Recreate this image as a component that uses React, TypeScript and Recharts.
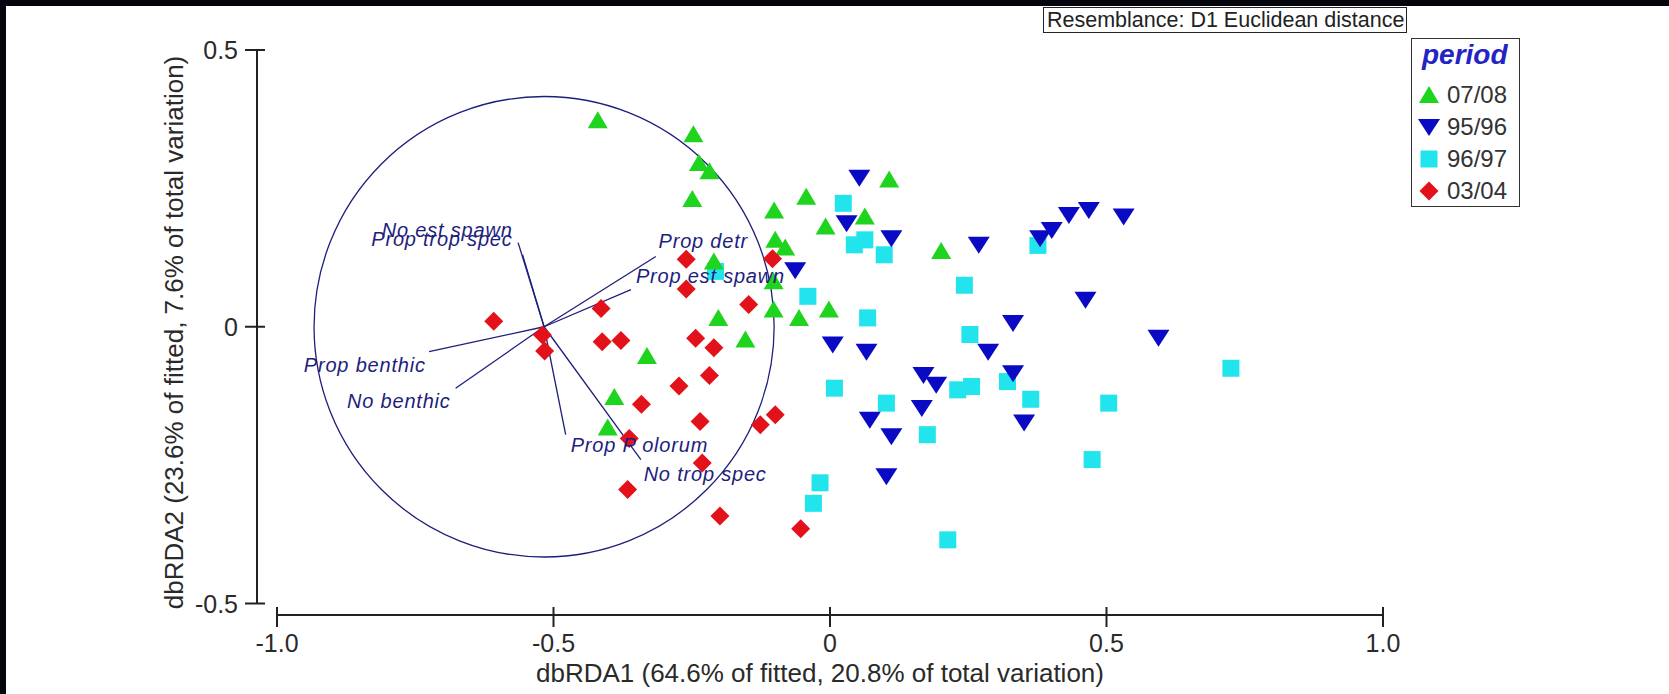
import React from 'react';
import { ScatterChart, Scatter, XAxis, YAxis, ReferenceLine, ReferenceArea } from 'recharts';

// dbRDA ordination scores
const periods = ['07/08', '95/96', '96/97', '03/04'];

const p0708X = [-0.42, -0.247, -0.237, -0.218, -0.249, -0.101, -0.043, 0.107, -0.008, 0.063, -0.099, -0.081, 0.201, -0.21, -0.102, -0.202, -0.153, -0.102, -0.056, -0.002, -0.331, -0.39, -0.402];
const p0708Y = [0.373, 0.348, 0.296, 0.281, 0.231, 0.21, 0.235, 0.266, 0.181, 0.199, 0.157, 0.143, 0.137, 0.118, 0.082, 0.016, -0.023, 0.031, 0.016, 0.031, -0.053, -0.127, -0.182];

const p9596X = [0.053, 0.03, 0.111, -0.063, 0.269, 0.38, 0.401, 0.432, 0.468, 0.531, 0.462, 0.331, 0.594, 0.005, 0.066, 0.286, 0.331, 0.169, 0.192, 0.166, 0.351, 0.072, 0.111, 0.102];
const p9596Y = [0.269, 0.187, 0.16, 0.102, 0.148, 0.16, 0.175, 0.202, 0.211, 0.199, 0.049, 0.007, -0.02, -0.032, -0.045, -0.045, -0.084, -0.087, -0.105, -0.147, -0.173, -0.168, -0.198, -0.27];

const p9697X = [0.024, 0.044, 0.063, 0.098, 0.376, 0.243, -0.04, 0.068, 0.253, 0.008, 0.102, 0.231, 0.256, 0.321, 0.363, 0.176, 0.504, 0.725, 0.474, -0.018, -0.03, 0.213, -0.207];
const p9697Y = [0.223, 0.148, 0.157, 0.13, 0.147, 0.075, 0.055, 0.016, -0.014, -0.111, -0.138, -0.114, -0.108, -0.099, -0.131, -0.195, -0.138, -0.075, -0.24, -0.282, -0.319, -0.385, 0.1];

const p0304X = [-0.608, -0.52, -0.516, -0.414, -0.412, -0.378, -0.26, -0.26, -0.104, -0.147, -0.243, -0.21, -0.218, -0.273, -0.341, -0.235, -0.099, -0.126, -0.363, -0.231, -0.366, -0.199, -0.053];
const p0304Y = [0.01, -0.015, -0.044, 0.033, -0.027, -0.025, 0.122, 0.068, 0.123, 0.04, -0.021, -0.038, -0.088, -0.107, -0.14, -0.171, -0.159, -0.177, -0.202, -0.246, -0.294, -0.342, -0.365];

// vector overlay (origin = centre of the correlation circle)
const vectorOrigin = { x: -0.517, y: 0 };
const circleRadius = 0.416;
const vectorNames = ['No est spawn', 'Prop trop spec', 'Prop detr', 'Prop est spawn', 'Prop benthic', 'No benthic', 'Prop P olorum', 'No trop spec'];
const vectorEndX = [-0.564, -0.556, -0.315, -0.36, -0.725, -0.677, -0.478, -0.342];
const vectorEndY = [0.152, 0.13, 0.127, 0.067, -0.045, -0.111, -0.195, -0.24];
const vectorLabelX = [-0.574, -0.574, -0.31, -0.351, -0.731, -0.686, -0.469, -0.337];
const vectorLabelY = [0.163, 0.145, 0.142, 0.079, -0.081, -0.147, -0.227, -0.278];

const xTicks = [-1, -0.5, 0, 0.5, 1];
const xTickLabels = ['-1.0', '-0.5', '0', '0.5', '1.0'];
const yTicks = [-0.5, 0, 0.5];
const yTickLabels = ['-0.5', '0', '0.5'];

const xTitle = 'dbRDA1 (64.6% of fitted, 20.8% of total variation)';
const yTitle = 'dbRDA2 (23.6% of fitted, 7.6% of total variation)';
const resemblance = 'Resemblance: D1 Euclidean distance';

const seriesX = [p0708X, p9596X, p9697X, p0304X];
const seriesY = [p0708Y, p9596Y, p9697Y, p0304Y];
const markerKind = ['up', 'down', 'square', 'diamond'];
const markerColor = ['#1fd41f', '#0a0ac4', '#22e4ec', '#e3121a'];
const drawOrder = [2, 0, 1, 3];

const FONT = '"Liberation Sans", Arial, sans-serif';
const AXIS = '#222';
const VEC = '#1e1e7c';

function Marker({ kind, cx, cy, fill }: { kind: string; cx: number; cy: number; fill: string }) {
  if (kind === 'up') return <polygon points={`${cx},${cy - 9} ${cx + 10},${cy + 8} ${cx - 10},${cy + 8}`} fill={fill} />;
  if (kind === 'down') return <polygon points={`${cx - 11},${cy - 8} ${cx + 11},${cy - 8} ${cx},${cy + 9}`} fill={fill} />;
  if (kind === 'square') return <rect x={cx - 8.5} y={cy - 8.5} width={17} height={17} fill={fill} />;
  return <polygon points={`${cx},${cy - 9.5} ${cx + 9.5},${cy} ${cx},${cy + 9.5} ${cx - 9.5},${cy}`} fill={fill} />;
}

function XTick(props: any) {
  const { x, y, payload } = props;
  const label = xTickLabels[xTicks.indexOf(payload.value)];
  return (
    <g>
      <line x1={x} x2={x} y1={y - 8} y2={y + 12} stroke={AXIS} strokeWidth={2} />
      <text x={x} y={y + 28} textAnchor="middle" dominantBaseline="central" fontSize={25} fill="#2a2a2a" fontFamily={FONT}>
        {label}
      </text>
    </g>
  );
}

function YTick(props: any) {
  const { x, y, payload } = props;
  const label = yTickLabels[yTicks.indexOf(payload.value)];
  return (
    <g>
      <line x1={x - 12} x2={x + 8} y1={y} y2={y} stroke={AXIS} strokeWidth={2} />
      <text x={x - 19} y={y} textAnchor="end" dominantBaseline="central" fontSize={25} fill="#2a2a2a" fontFamily={FONT}>
        {label}
      </text>
    </g>
  );
}

function VectorLabel(props: any) {
  const { cx, cy, payload } = props;
  return (
    <text x={cx} y={cy} textAnchor={payload.anchor} fontSize={20} fontStyle="italic" letterSpacing={0.8} fill={VEC} fontFamily={FONT}>
      {payload.name}
    </text>
  );
}

export default function App() {
  const labelData = vectorNames.map((name, i) => ({
    x: vectorLabelX[i],
    y: vectorLabelY[i],
    name,
    anchor: vectorEndX[i] < vectorOrigin.x ? 'end' : 'start',
  }));

  return (
    <div style={{ position: 'absolute', left: 0, top: 0, width: 1669, height: 694, background: '#05050d', overflow: 'hidden' }}>
      <div style={{ position: 'absolute', left: 6, top: 6, width: 1663, height: 688, background: '#fff' }} />
      <div style={{ position: 'absolute', left: 0, top: 0 }}>
        <ScatterChart width={1669} height={694} margin={{ top: 50, right: 286, bottom: 0, left: 0 }}>
          <XAxis
            type="number"
            dataKey="x"
            domain={[-1, 1]}
            ticks={xTicks}
            interval={0}
            height={79}
            padding={{ left: 20, right: 0 }}
            axisLine={{ stroke: AXIS, strokeWidth: 2, strokeDasharray: '0 20 1106 40' }}
            tickLine={false}
            tickSize={0}
            tickMargin={0}
            tick={XTick}
            label={(p: any) => (
              <text
                x={p.viewBox.x + p.viewBox.width / 2}
                y={p.viewBox.y + 58}
                textAnchor="middle"
                dominantBaseline="central"
                fontSize={26}
                fill="#2a2a2a"
                fontFamily={FONT}
              >
                {xTitle}
              </text>
            )}
          />
          <YAxis
            type="number"
            dataKey="y"
            domain={[-0.5, 0.5]}
            ticks={yTicks}
            interval={0}
            width={257}
            padding={{ top: 0, bottom: 11.5 }}
            axisLine={{ stroke: AXIS, strokeWidth: 2, strokeDasharray: '553.5 40' }}
            tickLine={false}
            tickSize={0}
            tickMargin={0}
            tick={YTick}
            label={(p: any) => {
              const lx = p.viewBox.x + p.viewBox.width - 83;
              const ly = p.viewBox.y + p.viewBox.height / 2;
              return (
                <text
                  x={lx}
                  y={ly}
                  transform={`rotate(-90, ${lx}, ${ly})`}
                  textAnchor="middle"
                  dominantBaseline="central"
                  fontSize={26}
                  fill="#2a2a2a"
                  fontFamily={FONT}
                >
                  {yTitle}
                </text>
              );
            }}
          />
          <ReferenceArea
            x1={vectorOrigin.x - circleRadius}
            x2={vectorOrigin.x + circleRadius}
            y1={vectorOrigin.y - circleRadius}
            y2={vectorOrigin.y + circleRadius}
            shape={(p: any) => (
              <ellipse
                cx={p.x + p.width / 2}
                cy={p.y + p.height / 2}
                rx={Math.abs(p.width) / 2}
                ry={Math.abs(p.height) / 2}
                fill="none"
                stroke={VEC}
                strokeWidth={1.3}
              />
            )}
          />
          {drawOrder.map((s) => (
            <Scatter
              key={periods[s]}
              name={periods[s]}
              data={seriesX[s].map((x, i) => ({ x, y: seriesY[s][i] }))}
              isAnimationActive={false}
              shape={(p: any) => <Marker kind={markerKind[s]} cx={p.cx} cy={p.cy} fill={markerColor[s]} />}
            />
          ))}
          {vectorNames.map((name, i) => (
            <ReferenceLine
              key={name}
              segment={[vectorOrigin, { x: vectorEndX[i], y: vectorEndY[i] }]}
              stroke={VEC}
              strokeWidth={1.3}
            />
          ))}
          <Scatter data={labelData} isAnimationActive={false} legendType="none" shape={VectorLabel} />
        </ScatterChart>
      </div>

      <div
        style={{
          position: 'absolute',
          left: 1043,
          top: 7,
          width: 364,
          height: 26,
          boxSizing: 'border-box',
          border: '1px solid #222',
          background: '#fff',
          fontFamily: FONT,
          fontSize: 21.5,
          lineHeight: '24px',
          paddingLeft: 3,
          color: '#222',
          whiteSpace: 'nowrap',
        }}
      >
        {resemblance}
      </div>

      <div
        style={{
          position: 'absolute',
          left: 1411,
          top: 38,
          width: 109,
          height: 169,
          boxSizing: 'border-box',
          border: '1px solid #333',
          background: '#fff',
          fontFamily: FONT,
        }}
      >
        <div style={{ position: 'absolute', left: 10, top: 2, fontSize: 28, lineHeight: '28px', fontWeight: 'bold', fontStyle: 'italic', color: '#2424c4' }}>
          period
        </div>
        {periods.map((p, i) => (
          <div key={p} style={{ position: 'absolute', left: 5, top: 42 + i * 32, height: 28, display: 'flex', alignItems: 'center' }}>
            <svg width={24} height={24}>
              <Marker kind={markerKind[i]} cx={12} cy={12} fill={markerColor[i]} />
            </svg>
            <span style={{ marginLeft: 6, fontSize: 24, color: '#333' }}>{p}</span>
          </div>
        ))}
      </div>
    </div>
  );
}
